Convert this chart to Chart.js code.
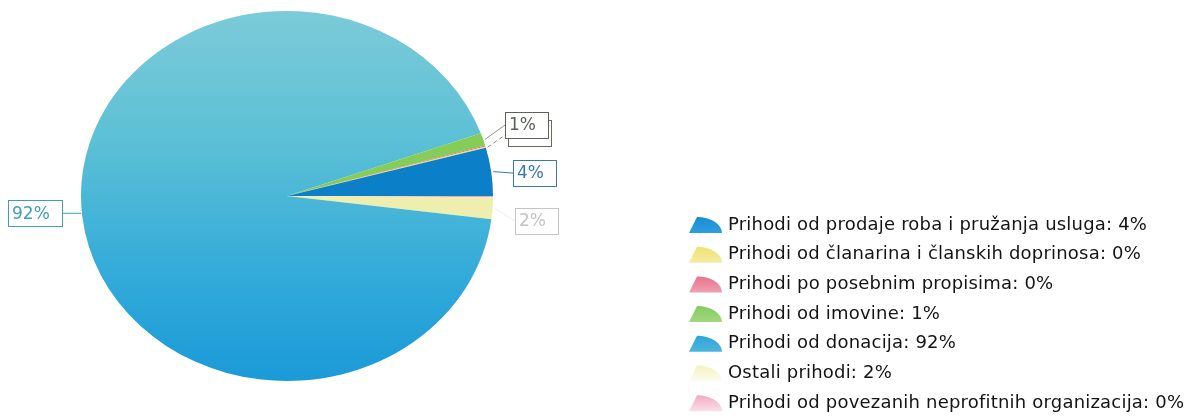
<!DOCTYPE html>
<html><head><meta charset="utf-8">
<script src="https://cdn.jsdelivr.net/npm/chart.js@4"></script>
<style>html,body{margin:0;padding:0;background:#fff}#wrap{position:relative;width:1187px;height:418px}</style>
</head><body><div id="wrap"><canvas id="c"></canvas></div>
<script>
const categories = [
  'Prihodi od prodaje roba i pružanja usluga',
  'Prihodi od članarina i članskih doprinosa',
  'Prihodi po posebnim propisima',
  'Prihodi od imovine',
  'Prihodi od donacija',
  'Ostali prihodi',
  'Prihodi od povezanih neprofitnih organizacija'
];
const values = [4.2, 0.1, 0.1, 1.1, 92.4, 1.9, 0.1];
const percentLabels = ['4%', '0%', '0%', '1%', '92%', '2%', '0%'];
const showSliceLabel = [true, false, false, true, true, true, false];
const hiddenBehind = [false, true, false, false, false, false, false];

const sliceColors = ['#0b7fc8', '#f0e070', '#e8708c', '#86cc58', '#3cb3da', '#eeeeae', '#f0a8c0'];
const labelColors = ['#3a78b0', '#6a6a5a', '#999', '#5a625a', '#3f9fb6', '#c4c4c4', '#999'];
const leaderColors = ['#3a78b0', '#8a8a7a', '#999', '#8a9a8a', '#3f9fb6', '#ececec', '#999'];
const legendColors = ['#1a8cd4', '#f0e272', '#e8728e', '#86cc5e', '#2ea6d8', '#f3f3bc', '#f2aac4'];

const ELLIPSE_X = 206 / 185;
const N = values.length;
const rev = a => a.slice().reverse();

function donationGradient(ctx) {
  const chart = ctx.chart;
  const area = chart.chartArea;
  if (!area) return sliceColors[4];
  const g = chart.ctx.createLinearGradient(0, area.top, 0, area.bottom);
  g.addColorStop(0, '#7ccbd8');
  g.addColorStop(0.35, '#5cc0d6');
  g.addColorStop(0.7, '#34abd9');
  g.addColorStop(1, '#1a9ad8');
  return g;
}

const ellipsePlugin = {
  id: 'ellipse',
  beforeDatasetsDraw(chart) {
    const a = chart.getDatasetMeta(0).data[0];
    const ctx = chart.ctx;
    ctx.save();
    ctx.translate(a.x, a.y);
    ctx.scale(ELLIPSE_X, 1);
    ctx.translate(-a.x, -a.y);
  },
  afterDatasetsDraw(chart) {
    chart.ctx.restore();
    drawSliceLabels(chart);
  }
};

function anchorOf(arc) {
  const mid = (arc.startAngle + arc.endAngle) / 2;
  return {
    ax: arc.x + ELLIPSE_X * arc.outerRadius * Math.cos(mid),
    ay: arc.y + arc.outerRadius * Math.sin(mid),
    right: Math.cos(mid) >= 0
  };
}

function drawBox(ctx, it, txt, col, leaderCol, dashed) {
  const tw = ctx.measureText(txt).width;
  const w = Math.round(tw + 16), h = 26;
  const left = it.right ? Math.round(it.ax + 22) : Math.round(it.ax - 20 - w);
  const top = Math.round(it.by - h / 2);
  ctx.strokeStyle = leaderCol;
  ctx.setLineDash(dashed ? [4, 3] : []);
  ctx.beginPath();
  if (it.right) { ctx.moveTo(it.ax + 2, it.ay); ctx.lineTo(left, it.by); }
  else { ctx.moveTo(it.ax - 1, it.by); ctx.lineTo(left + w, it.by); }
  ctx.stroke();
  ctx.setLineDash([]);
  ctx.strokeStyle = col;
  ctx.fillStyle = '#fff';
  ctx.fillRect(left, top, w, h);
  ctx.strokeRect(left + 0.5, top + 0.5, w, h);
  ctx.fillStyle = col;
  ctx.fillText(txt, left + 4, it.by + 1);
}

function drawSliceLabels(chart) {
  const meta = chart.getDatasetMeta(0);
  const ctx = chart.ctx;
  const items = [];
  const behind = [];
  meta.data.forEach((arc, di) => {
    const ci = N - 1 - di;
    if (showSliceLabel[ci]) items.push(Object.assign({ ci }, anchorOf(arc)));
    else if (hiddenBehind[ci]) behind.push(Object.assign({ ci }, anchorOf(arc)));
  });
  const right = items.filter(i => i.right).sort((a, b) => a.ay - b.ay);
  const mean = right.reduce((s, i) => s + i.ay, 0) / Math.max(1, right.length);
  right.forEach((it, k) => { it.by = mean + (k - (right.length - 1) / 2) * 48; });
  items.filter(i => !i.right).forEach(it => { it.by = it.ay - 3; });
  const top = right[0];

  ctx.save();
  ctx.font = '17px "DejaVu Sans"';
  ctx.textBaseline = 'middle';
  ctx.lineWidth = 1;
  behind.forEach(it => {
    it.by = top.by + 8;
    drawBox(ctx, it, percentLabels[it.ci], labelColors[it.ci], leaderColors[it.ci], true);
  });
  items.forEach(it => drawBox(ctx, it, percentLabels[it.ci], labelColors[it.ci], leaderColors[it.ci], false));
  ctx.restore();
}

const legendPlugin = {
  id: 'sideLegend',
  afterDraw(chart) {
    const ctx = chart.ctx;
    ctx.save();
    ctx.font = '18px "DejaVu Sans"';
    if ('letterSpacing' in ctx) ctx.letterSpacing = '0.2px';
    ctx.textBaseline = 'middle';
    categories.forEach((c, i) => {
      const y = 225 + i * 29.7;
      const b = y + 8, t = y - 8;
      const g = ctx.createLinearGradient(0, t, 0, b);
      g.addColorStop(0, legendColors[i]);
      g.addColorStop(1, Chart.helpers.color(legendColors[i]).lighten(0.15).hexString());
      ctx.fillStyle = g;
      ctx.beginPath();
      ctx.moveTo(689, b);
      ctx.lineTo(697, t);
      ctx.ellipse(697, b, 25, b - t, 0, -Math.PI / 2, 0);
      ctx.closePath();
      ctx.fill();
      ctx.fillStyle = '#141414';
      ctx.fillText(c + ': ' + percentLabels[i], 728, y);
    });
    ctx.restore();
  }
};

new Chart(document.getElementById('c'), {
  type: 'pie',
  data: {
    labels: rev(categories),
    datasets: [{
      data: rev(values),
      backgroundColor: (ctx) => {
        const ci = N - 1 - ctx.dataIndex;
        return ci === 4 ? donationGradient(ctx) : sliceColors[ci];
      },
      borderWidth: 0
    }]
  },
  options: {
    responsive: true,
    maintainAspectRatio: false,
    animation: false,
    rotation: 90,
    layout: { padding: { top: 11, bottom: 37, left: 0, right: 1187 - 574 } },
    plugins: { legend: { display: false }, tooltip: { enabled: false } }
  },
  plugins: [ellipsePlugin, legendPlugin]
});
</script>
</body></html>
